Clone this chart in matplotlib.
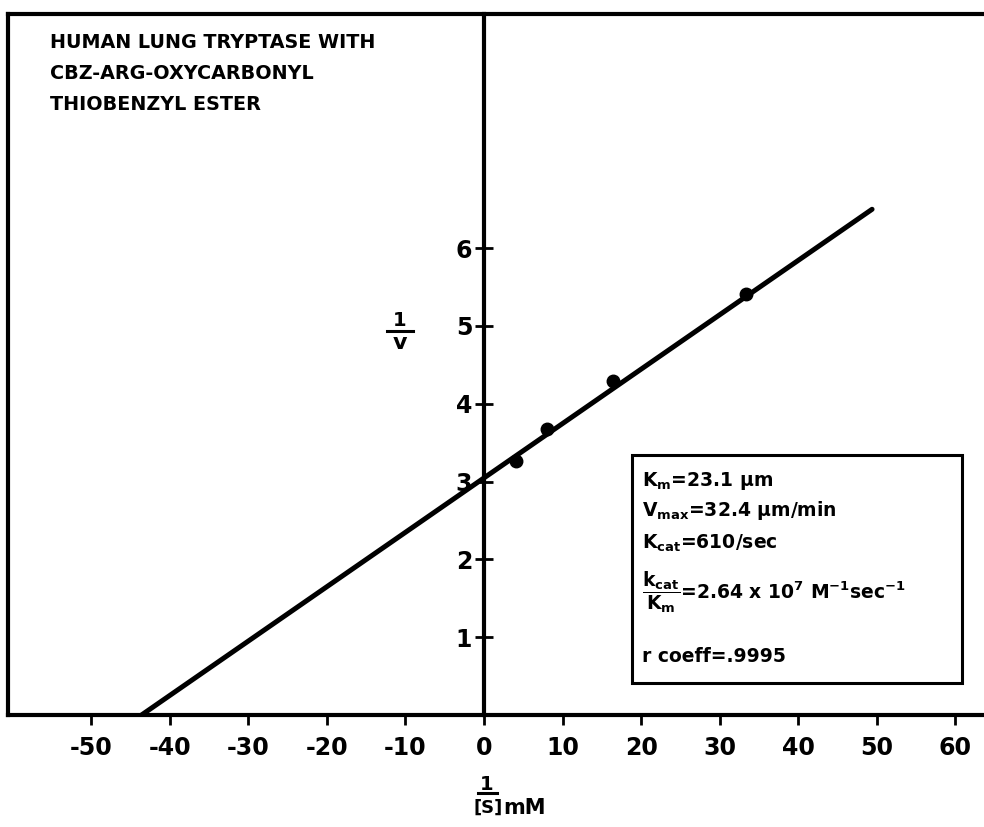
import matplotlib.pyplot as plt
from matplotlib.patches import Rectangle
from matplotlib.lines import Line2D

plt.rcParams['font.family'] = ['DejaVu Sans']
plt.rcParams['font.weight'] = 'bold'
plt.rcParams['mathtext.fontset'] = 'custom'
plt.rcParams['mathtext.default'] = 'regular'
plt.rcParams['axes.unicode_minus'] = False

# data
s_inv = [4.1, 8.0, 16.4, 33.3]      # 1/[S]
v_inv = [3.27, 3.68, 4.29, 5.41]    # 1/v
fit_x = [-43.6, 49.4]
fit_y = [0.0, 6.5]
x_ticks = list(range(-50, 61, 10))
y_ticks = [1, 2, 3, 4, 5, 6]

title_lines = ['HUMAN LUNG TRYPTASE WITH',
               'CBZ-ARG-OXYCARBONYL',
               'THIOBENZYL ESTER']
box_lines = [r'K$_{m}$=23.1 µm',
             r'V$_{max}$=32.4 µm/min',
             r'K$_{cat}$=610/sec',
             r'$\dfrac{k_{cat}}{K_{m}}$=2.64 x 10$^{7}$ M$^{-1}$sec$^{-1}$',
             'r coeff=.9995']

W, H = 984, 827
fig = plt.figure(figsize=(W / 100, H / 100), dpi=100)
ax = fig.add_axes([8 / W, 1 - 715 / H, (W - 8) / W, (715 - 14) / H])
ax.set_xlim(-60.6, 63.65)
ax.set_ylim(0, 9.01)

ax.plot(fit_x, fit_y, color='black', lw=3.6, solid_capstyle='round')
ax.plot(s_inv, v_inv, 'o', color='black', ms=9)

for side in ['top', 'bottom', 'left']:
    ax.spines[side].set_linewidth(3)
ax.spines['right'].set_visible(False)
ax.spines['left'].set_position(('data', 0))
ax.axvline(ax.get_xlim()[0], color='black', lw=3, clip_on=False)

ax.set_xticks(x_ticks)
ax.set_yticks(y_ticks)
ax.tick_params(axis='x', direction='out', length=7, width=2, pad=8, labelsize=17)
ax.tick_params(axis='y', direction='inout', length=13, width=2, pad=2, labelsize=17)


def px(x, y):
    return x / W, 1 - y / H


# title block, top left
for i, line in enumerate(title_lines):
    fig.text(*px(50, 43 + i * 30.5), line, ha='left', va='center', fontsize=13.8)

# parameter box
fig.add_artist(Rectangle(px(632, 683), (962 - 632) / W, (683 - 455) / H,
                         fill=False, lw=2.2, color='black', transform=fig.transFigure))
box_y = [481, 511, 543, 592, 657]
for y, line in zip(box_y, box_lines):
    fig.text(*px(642, y), line, ha='left', va='center', fontsize=13.5)

# y label 1/v
fig.text(*px(400, 320), '1', ha='center', va='center', fontsize=14)
fig.add_artist(Line2D([387 / W, 413 / W], [1 - 331 / H] * 2, lw=2.2, color='black',
                      transform=fig.transFigure))
fig.text(*px(400, 343), 'v', ha='center', va='center', fontsize=16)

# x label 1/[S] mM
fig.text(*px(487, 785), '1', ha='center', va='center', fontsize=14)
fig.add_artist(Line2D([478 / W, 497 / W], [1 - 793 / H] * 2, lw=2.2, color='black',
                      transform=fig.transFigure))
fig.text(*px(488, 808), '[S]', ha='center', va='center', fontsize=13)
fig.text(*px(503, 808), 'mM', ha='left', va='center', fontsize=15)

fig.savefig('out.png', dpi=100)
